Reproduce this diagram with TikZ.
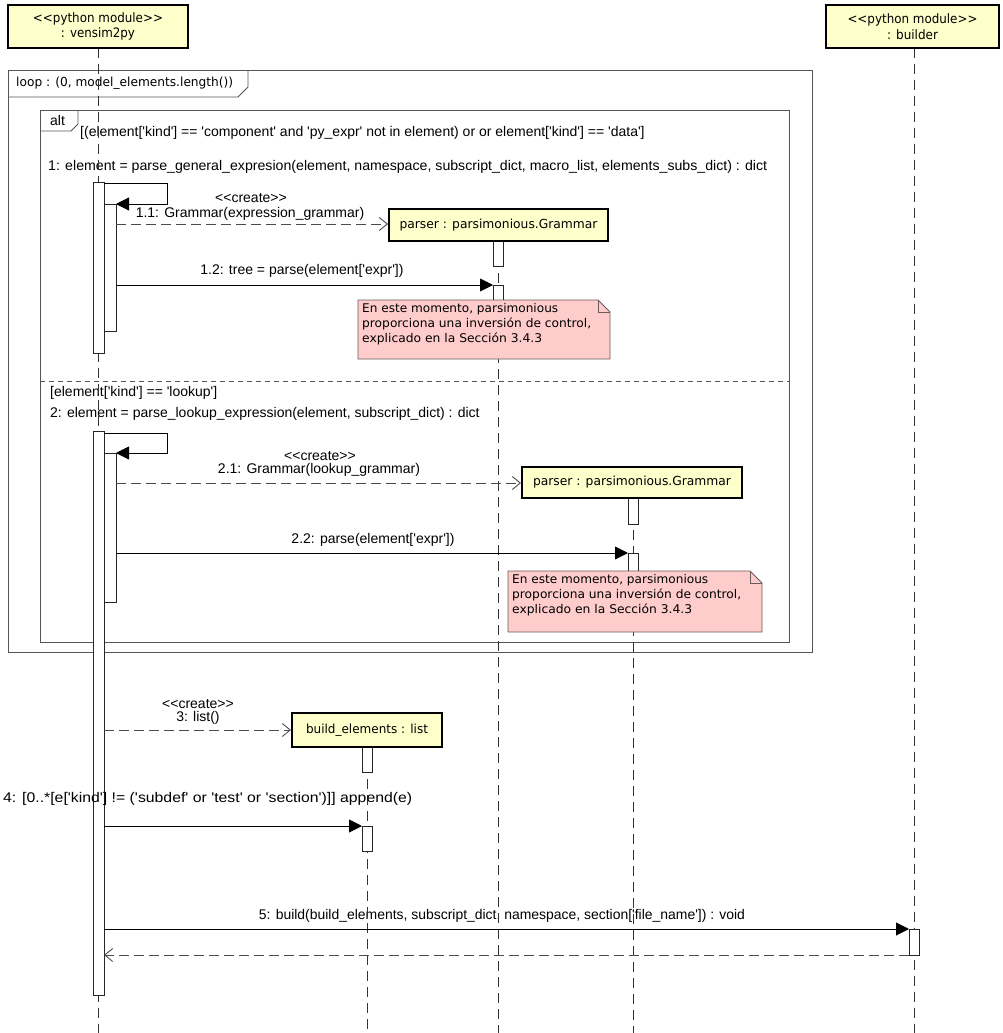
\documentclass[tikz,border=0pt]{standalone}
\usepackage{fontspec}
\usepackage{graphicx}
\usetikzlibrary{arrows.meta}
\newfontfamily\msgf{Liberation Sans}
\newfontfamily\lucf{DejaVu Sans}
\newcommand\fw[2]{\resizebox{#1pt}{\height}{#2}}
\definecolor{hdrfill}{RGB}{255,255,204}
\definecolor{notefill}{RGB}{255,204,204}
\definecolor{notedraw}{RGB}{110,90,90}
\definecolor{framec}{RGB}{85,85,85}
\begin{document}
\begin{tikzpicture}[x=1pt,y=-1pt,
  hdr/.style={draw=black, line width=2pt, fill=hdrfill, inner sep=0pt, align=center,
    font=\lucf\fontsize{13}{15.5}\selectfont},
  actbar/.style={draw=black!85, fill=white, line width=0.8pt},
  lifeln/.style={draw=black!80, line width=0.9pt, dash pattern=on 10pt off 6pt},
  frm/.style={draw=framec, line width=0.9pt},
  msgarr/.style={draw=black, line width=0.9pt, -{Triangle[length=13pt,width=13pt]}},
  crtarr/.style={draw=black!70, line width=0.9pt, dash pattern=on 10pt off 5pt, -{Straight Barb[length=8pt,width=13pt]}},
  lbl/.style={inner sep=0pt, font=\msgf\fontsize{14}{16}\selectfont},
  notetxt/.style={inner sep=0pt, align=left, anchor=north west, font=\lucf\fontsize{12}{15}\selectfont},
  notebox/.style={draw=notedraw, fill=notefill, line width=0.8pt, line join=miter}
]
\useasboundingbox[fill=white] (0,0) rectangle (1002,1033);

% ---------- frames ----------
\draw[frm] (8,70) rectangle (812,652);
\draw[frm] (8,97) -- (238,97) -- (248,87) -- (248,70);
\node[lbl, anchor=west, font=\lucf\fontsize{12.5}{14}\selectfont] (looplbl) at (16,83) {\fw{217}{loop : (0, model\_elements.length())}};
\draw[frm] (40,110) rectangle (789,642);
\draw[frm] (40,131) -- (71,131) -- (78,124) -- (78,110);
\node[lbl, anchor=west] (altlbl) at (50,120) {alt};
\draw[frm, dash pattern=on 5pt off 4pt] (40,381) -- (789,381);

% ---------- guards and nested message labels ----------
\node[lbl, anchor=west] (g1) at (80,133) {[(element['kind'] == 'component' and 'py\_expr' not in element) or or element['kind'] == 'data']};
\node[lbl, anchor=west] (m1lbl) at (48,167) {\fw{719}{1: element = parse\_general\_expresion(element, namespace, subscript\_dict, macro\_list, elements\_subs\_dict) : dict}};
\node[lbl, anchor=west] (g2) at (50,393) {[element['kind'] == 'lookup']};
\node[lbl, anchor=west] (m2lbl) at (50,414) {2: element = parse\_lookup\_expression(element, subscript\_dict) : dict};

% ---------- message labels ----------
\node[lbl] (cr1) at (251,198) {<<create>>};
\node[lbl] (l11) at (250,214) {1.1: Grammar(expression\_grammar)};
\node[lbl] (l12) at (302,271) {1.2: tree = parse(element['expr'])};
\node[lbl] (cr2) at (320,456) {<<create>>};
\node[lbl] (l21) at (319,470) {2.1: Grammar(lookup\_grammar)};
\node[lbl] (l22) at (373,540) {2.2: parse(element['expr'])};
\node[lbl] (cr3) at (198,704) {<<create>>};
\node[lbl] (l3) at (198,718) {3: list()};
\node[lbl] (l5) at (502,916) {\fw{486}{5: build(build\_elements, subscript\_dict, namespace, section['file\_name']) : void}};

% ---------- lifelines ----------
\coordinate (vtop) at (98,48);   \coordinate (vbot) at (98,1033);
\coordinate (p1top) at (498,241); \coordinate (p1bot) at (498,1033);
\coordinate (p2top) at (633,498); \coordinate (p2bot) at (633,1033);
\coordinate (btop) at (367,747); \coordinate (bbot) at (367,1033);
\coordinate (bltop) at (914,48); \coordinate (blbot) at (914,1033);
\draw[lifeln] (vtop) -- (vbot);
\draw[lifeln] (p1top) -- (p1bot);
\draw[lifeln] (p2top) -- (p2bot);
\draw[lifeln] (btop) -- (bbot);
\draw[lifeln] (bltop) -- (blbot);

% ---------- heads ----------
\node[hdr, minimum width=180pt, minimum height=43pt] (vensim) at (98,26.5)
  {\fw{130}{<<python module>>}\\\fw{74}{: vensim2py}};
\node[hdr, minimum width=173pt, minimum height=43pt] (builder) at (912.5,26.5)
  {\fw{130}{<<python module>>}\\\fw{51}{: builder}};

% ---------- activation bars ----------
\draw[actbar] (93,182) rectangle (104,353);
\draw[actbar] (104,204) rectangle (116,331);
\draw[actbar] (93,431) rectangle (104,995);
\draw[actbar] (104,453) rectangle (116,602);
\draw[actbar] (493,241) rectangle (503,266);
\draw[actbar] (493,285) rectangle (503,355);
\draw[actbar] (628,498) rectangle (638,524);
\draw[actbar] (628,553) rectangle (638,600);
\draw[actbar] (362,747) rectangle (372,772);
\draw[actbar] (362,826) rectangle (372,851);
\draw[actbar] (909,929) rectangle (919,955);

\node[lbl, anchor=west] (l4) at (3,799) {\fw{409}{4: [0..*[e['kind'] != ('subdef' or 'test' or 'section')]] append(e)}};

% ---------- created objects ----------
\node[hdr, font=\lucf\fontsize{12.5}{15}\selectfont, minimum width=219pt, minimum height=32pt] (parser1) at (498.5,225)
  {\fw{198}{parser : parsimonious.Grammar}};
\node[hdr, font=\lucf\fontsize{12.5}{15}\selectfont, minimum width=220pt, minimum height=31pt] (parser2) at (632,482.5)
  {\fw{198}{parser : parsimonious.Grammar}};
\node[hdr, font=\lucf\fontsize{12.5}{15}\selectfont, minimum width=150pt, minimum height=34pt] (buildel) at (367,730)
  {\fw{122}{build\_elements : list}};

% ---------- messages ----------
\coordinate (s1a) at (104,183); \coordinate (s1b) at (167,183);
\coordinate (s1c) at (167,204); \coordinate (s1d) at (116,204);
\draw[msgarr] (s1a) -- (s1b) -- (s1c) -- (s1d);
\coordinate (c11) at (116,224);
\draw[crtarr] (c11) -- (parser1.west |- c11);
\coordinate (c12a) at (116,285); \coordinate (c12b) at (493,285);
\draw[msgarr] (c12a) -- (c12b);

\coordinate (s2a) at (104,433); \coordinate (s2b) at (167,433);
\coordinate (s2c) at (167,453); \coordinate (s2d) at (116,453);
\draw[msgarr] (s2a) -- (s2b) -- (s2c) -- (s2d);
\coordinate (c21) at (116,483);
\draw[crtarr] (c21) -- (parser2.west |- c21);
\coordinate (c22a) at (116,553); \coordinate (c22b) at (628,553);
\draw[msgarr] (c22a) -- (c22b);

\coordinate (c3) at (104,730);
\draw[crtarr] (c3) -- (buildel.west |- c3);
\coordinate (c4a) at (104,826); \coordinate (c4b) at (362,826);
\draw[msgarr] (c4a) -- (c4b);
\coordinate (c5a) at (104,929); \coordinate (c5b) at (909,929);
\draw[msgarr] (c5a) -- (c5b);
\coordinate (r5a) at (909,955); \coordinate (r5b) at (104,955);
\draw[crtarr] (r5a) -- (r5b);

% ---------- notes ----------
\draw[notebox] (358,300) -- (598,300) -- (610,312) -- (610,359) -- (358,359) -- cycle;
\draw[notebox, fill=none] (598,300) -- (598,312) -- (610,312);
\node[notetxt] (note1) at (362,303) {\fw{196}{En este momento, parsimonious}\\\fw{229}{proporciona una inversión de control,}\\\fw{180}{explicado en la Sección 3.4.3}};
\draw[notebox] (508,571) -- (750,571) -- (762,583) -- (762,632) -- (508,632) -- cycle;
\draw[notebox, fill=none] (750,571) -- (750,583) -- (762,583);
\node[notetxt] (note2) at (512,574) {\fw{196}{En este momento, parsimonious}\\\fw{229}{proporciona una inversión de control,}\\\fw{180}{explicado en la Sección 3.4.3}};
\end{tikzpicture}
\end{document}
